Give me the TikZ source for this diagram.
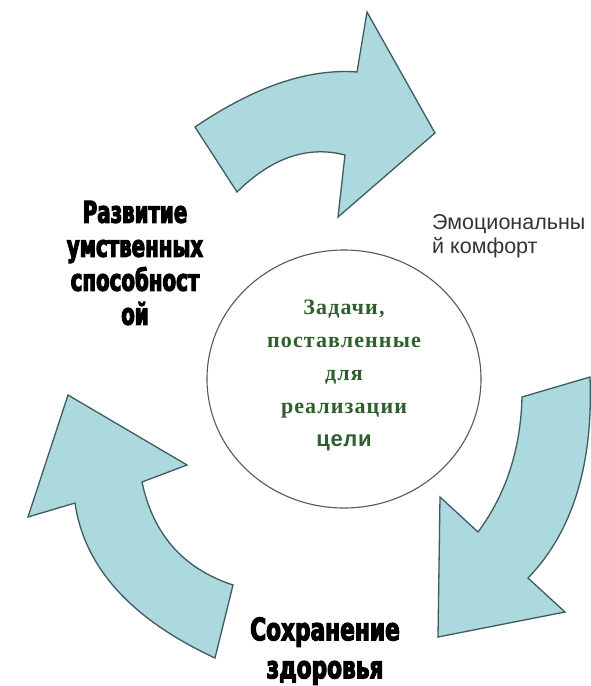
\documentclass[tikz,border=0pt]{standalone}
\usepackage{fontspec}
\usetikzlibrary{shapes.geometric}
\setmainfont{Liberation Serif}
\setsansfont{Liberation Sans}
\newfontfamily\heavyfont[FakeStretch=0.66,FakeBold=3.5]{DejaVu Sans Bold}
\newfontfamily\heavywidefont[FakeStretch=0.7,FakeBold=3.5]{DejaVu Sans Bold}
\newfontfamily\taskfont[LetterSpace=5]{Liberation Serif}
\newfontfamily\tasksans[LetterSpace=3]{Liberation Sans}
\newfontfamily\arialfont{Liberation Sans}
\definecolor{arrowfill}{HTML}{ABD9DE}
\definecolor{arrowline}{HTML}{3E5B5F}
\definecolor{taskgreen}{HTML}{2F5E2F}
\definecolor{softtext}{HTML}{333333}
\tikzset{
  bigarrow/.style={fill=arrowfill, draw=arrowline, line width=1.3pt, line join=miter},
  heavylabel/.style={align=center, font=\heavyfont\fontsize{30}{34}\selectfont, text=black, inner sep=0pt},
}
\begin{document}
\begin{tikzpicture}[x=1pt,y=-1pt]
\useasboundingbox (0,0) rectangle (591,686);
\fill[white] (0,0) rectangle (591,686);
% top arrow
\draw[bigarrow] (195,127) .. controls (254.3,86.7) and (308.3,68.3) .. (357,72)
  -- (367,12) -- (435,133) -- (338,217) -- (345,155)
  .. controls (307.7,145.3) and (271.7,157.7) .. (237,192) -- cycle;
% right arrow
\draw[bigarrow] (590,377) -- (522,397)
  .. controls (520.7,449.3) and (506,494.3) .. (478,532)
  -- (440,497) -- (438,637) -- (565,612) -- (528,578)
  .. controls (572.7,531.7) and (593.3,464.7) .. (590,377) -- cycle;
% left arrow
\draw[bigarrow] (68,395) -- (187,465) -- (142,482)
  .. controls (153,534.3) and (183.3,568.7) .. (233,585)
  -- (215,658)
  .. controls (131,619) and (84.3,567.3) .. (75,503)
  -- (28,517) -- cycle;
% circle
\node (goal) [draw=black!65, line width=1.1pt, ellipse, minimum width=274pt, minimum height=258pt, inner sep=0pt] at (344,379) {};
\node (goaltext) [align=center, text=taskgreen, inner sep=0pt, font=\taskfont\fontsize{22}{33}\selectfont\bfseries] at (344,375)
  {Задачи,\\ поставленные\\ для\\ реализации\\ {\tasksans\bfseries цели}};
% labels
\node (mind) [heavylabel] at (135,263) {Развитие\\ умственных\\ способност\\ ой};
\node (health) [heavylabel, font=\heavywidefont\fontsize{31}{38}\selectfont] at (325,651) {Сохранение\\ здоровья};
\node (comfort) [anchor=west, align=left, text=softtext, inner sep=0pt, font=\arialfont\fontsize{21.5}{24}\selectfont] at (432,236) {Эмоциональны\\ й комфорт};
\end{tikzpicture}
\end{document}
